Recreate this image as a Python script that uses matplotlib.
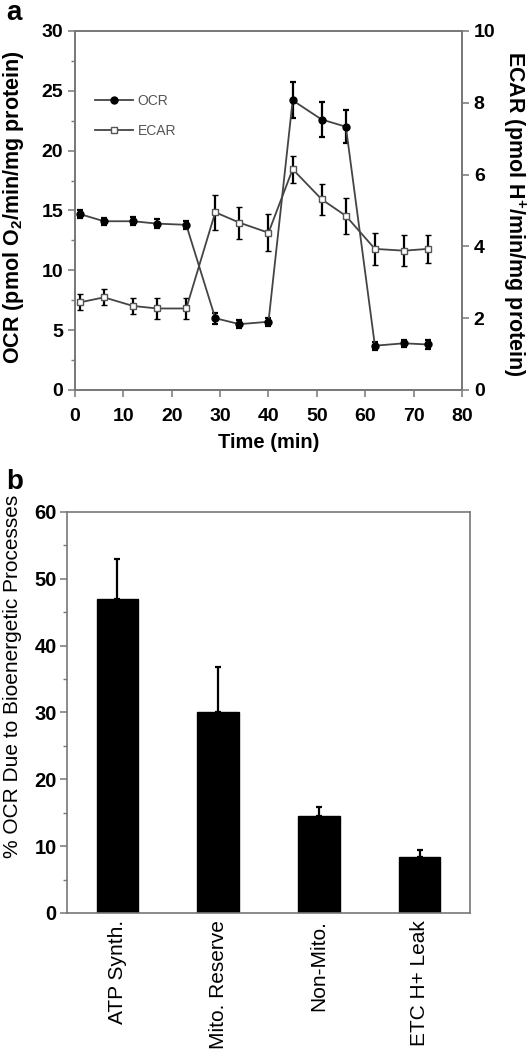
import numpy as np
import matplotlib.pyplot as plt
from matplotlib.ticker import MultipleLocator
from matplotlib.lines import Line2D

plt.rcParams['font.family'] = ['Liberation Sans', 'DejaVu Sans']
plt.rcParams['mathtext.default'] = 'regular'

# Panel a data
time_min = [1, 6, 12, 17, 23, 29, 34, 40, 45, 51, 56, 62, 68, 73]
ocr = [14.7, 14.1, 14.1, 13.9, 13.8, 6.0, 5.5, 5.7, 24.2, 22.6, 22.0, 3.7, 3.9, 3.8]
ocr_err = [0.35, 0.3, 0.35, 0.35, 0.35, 0.45, 0.35, 0.35, 1.5, 1.5, 1.4, 0.35, 0.3, 0.35]
ecar = [2.44, 2.58, 2.34, 2.27, 2.27, 4.95, 4.66, 4.38, 6.15, 5.31, 4.85, 3.93, 3.88, 3.93]
ecar_err = [0.22, 0.22, 0.23, 0.29, 0.30, 0.49, 0.45, 0.51, 0.38, 0.44, 0.51, 0.45, 0.43, 0.39]

# Panel b data
categories = ["ATP Synth.", "Mito. Reserve", "Non-Mito.", "ETC H+ Leak"]
pct_ocr = [47.0, 30.0, 14.5, 8.4]
pct_err = [6.0, 6.8, 1.4, 1.0]

spine_col = '#777777'
line_col = '#444444'

fig = plt.figure(figsize=(5.27, 10.5), dpi=100)

# ---- panel a ----
ax1 = fig.add_axes([0.1423, 0.6286, 0.7343, 0.3419])
ax2 = ax1.twinx()

ax1.errorbar(time_min, ocr, yerr=ocr_err, color=line_col, lw=1.3, marker='o',
             ms=5, mfc='black', mec='black', ecolor='black', elinewidth=1.6,
             capsize=2.5, capthick=1.6, zorder=3)
ax2.errorbar(time_min, ecar, yerr=ecar_err, color=line_col, lw=1.3, marker='s',
             ms=5, mfc='white', mec='#555555', mew=1.0, ecolor='black',
             elinewidth=1.6, capsize=2.5, capthick=1.6, zorder=3)

ax1.set_xlim(0, 80)
ax1.set_ylim(0, 30)
ax2.set_ylim(0, 10)
ax1.xaxis.set_major_locator(MultipleLocator(10))
ax1.yaxis.set_major_locator(MultipleLocator(5))
ax1.yaxis.set_minor_locator(MultipleLocator(2.5))
ax2.yaxis.set_major_locator(MultipleLocator(2))

for ax in (ax1, ax2):
    for s in ax.spines.values():
        s.set_color(spine_col)
        s.set_linewidth(1.2)
ax1.tick_params(axis='y', which='major', direction='out', length=5,
                color=spine_col, width=1.1, labelsize=14)
ax1.tick_params(axis='x', which='major', direction='out', length=5,
                color=spine_col, width=1.1, labelsize=14, pad=8)
ax1.tick_params(axis='y', which='minor', direction='out', length=3,
                color=spine_col, width=1.0)
ax2.tick_params(axis='y', which='major', direction='out', length=5,
                color=spine_col, width=1.1, labelsize=14)
for lab in ax1.get_xticklabels() + ax1.get_yticklabels() + ax2.get_yticklabels():
    lab.set_fontweight('bold')

ax1.set_xlabel('Time (min)', fontsize=14.5, fontweight='bold', labelpad=6)
ax1.set_ylabel('OCR (pmol O$_2$/min/mg protein)', fontsize=15.5, fontweight='bold',
               va='center')
ax1.yaxis.set_label_coords(-0.16, 0.51)
ax2.set_ylabel('ECAR (pmol H$^{+}$/min/mg protein)', fontsize=15.5, fontweight='bold',
               rotation=270, va='center')
ax2.yaxis.set_label_coords(1.135, 0.49)

handles = [Line2D([], [], color=line_col, lw=1.3, marker='o', ms=5, mfc='black', mec='black'),
           Line2D([], [], color=line_col, lw=1.3, marker='s', ms=5, mfc='white', mec='#555555')]
leg = ax1.legend(handles, ['OCR', 'ECAR'], loc='upper left', bbox_to_anchor=(0.02, 0.86),
                 frameon=False, fontsize=10, handlelength=2.7, handletextpad=0.35,
                 labelspacing=1.15)
for t in leg.get_texts():
    t.set_color('#555555')

fig.text(0.012, 1.0, 'a', fontsize=20, fontweight='bold', va='top', ha='left')

# ---- panel b ----
ax3 = fig.add_axes([0.1271, 0.1305, 0.7647, 0.3819])
xpos = np.arange(1, len(categories) + 1)
ax3.bar(xpos, pct_ocr, width=0.41, color='black', edgecolor='black', zorder=2)
ax3.errorbar(xpos, pct_ocr, yerr=[np.zeros(len(pct_err)), pct_err], fmt='none',
             ecolor='black', elinewidth=1.6, capsize=2.5, capthick=1.6, zorder=3)
ax3.set_xlim(0.5, 4.5)
ax3.set_ylim(0, 60)
ax3.yaxis.set_major_locator(MultipleLocator(10))
ax3.yaxis.set_minor_locator(MultipleLocator(5))
ax3.set_xticks(xpos)
ax3.set_xticklabels(categories, rotation=90, fontsize=15)
ax3.tick_params(axis='x', length=0, pad=5)
ax3.tick_params(axis='y', which='major', direction='out', length=5,
                color=spine_col, width=1.1, labelsize=14.5, pad=2.5)
ax3.tick_params(axis='y', which='minor', direction='out', length=3,
                color=spine_col, width=1.0)
for lab in ax3.get_yticklabels():
    lab.set_fontweight('bold')
for s in ax3.spines.values():
    s.set_color(spine_col)
    s.set_linewidth(1.2)
ax3.set_ylabel('% OCR Due to Bioenergetic Processes', fontsize=15, va='center')
ax3.yaxis.set_label_coords(-0.136, 0.589)

fig.text(0.012, 0.553, 'b', fontsize=20, fontweight='bold', va='top', ha='left')

fig.savefig('out.png', dpi=100)
